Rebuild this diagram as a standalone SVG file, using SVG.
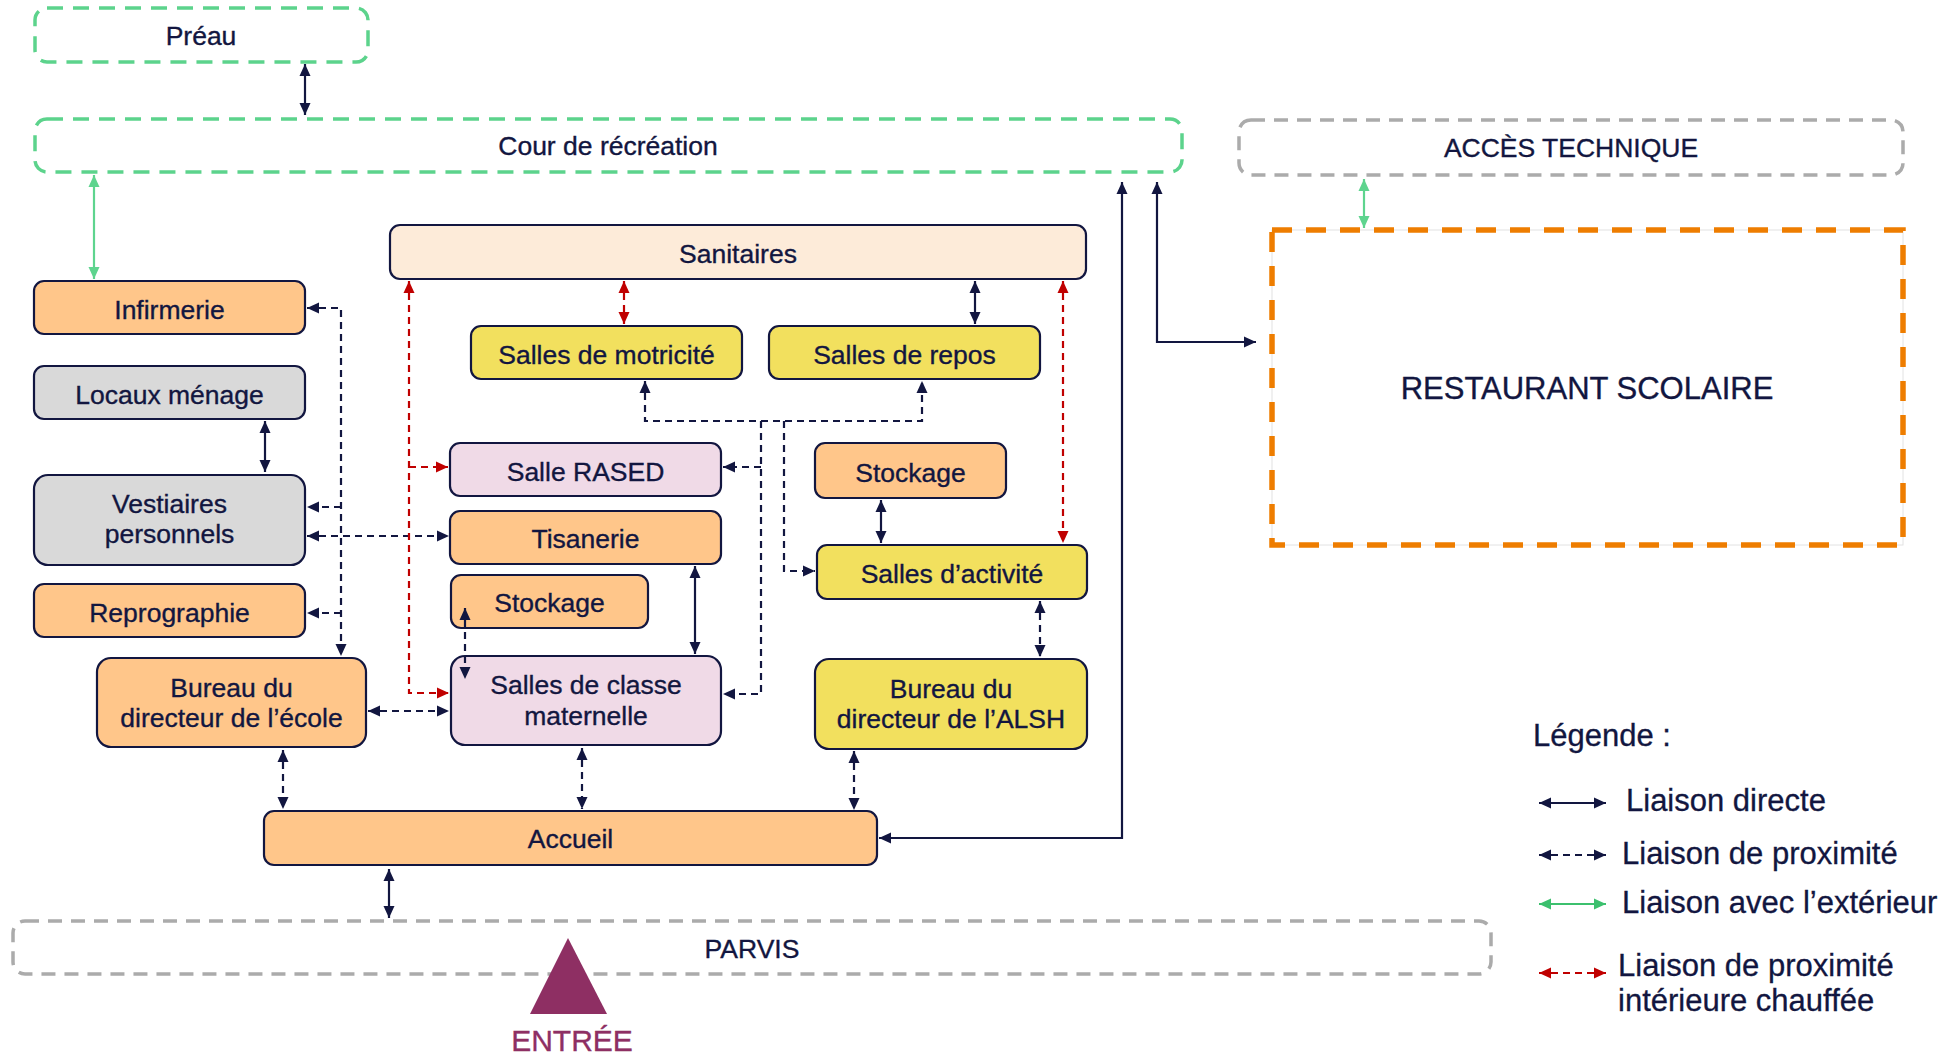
<svg xmlns="http://www.w3.org/2000/svg" width="1954" height="1055" viewBox="0 0 1954 1055">
  <defs>
    <style>
      .t { font-family: "Liberation Sans", Arial, sans-serif; font-size: 26.5px; fill: #121640; stroke: #121640; stroke-width: 0.35; text-anchor: middle; }
      .lg { font-family: "Liberation Sans", Arial, sans-serif; font-size: 31px; fill: #121640; stroke: #121640; stroke-width: 0.3; }
      .box { stroke: #121640; stroke-width: 2.2; }
      .or { fill: #FFC68A; }
      .ye { fill: #F2E05E; }
      .gy { fill: #D9D9D9; }
      .pk { fill: #F0DAE7; }
      .pe { fill: #FDEBD9; }
      .zone-g { fill: none; stroke: #5CD38C; stroke-width: 3.5; stroke-dasharray: 16 10; }
      .zone-y { fill: none; stroke: #ABABAB; stroke-width: 3.5; stroke-dasharray: 14 9; }
      .c { fill: none; stroke: #121640; stroke-width: 2.2; }
      .dash { stroke-dasharray: 7 5; }
      .red { stroke: #C00000; }
      .grn { stroke: #5ED48E; }
      .grn2 { stroke: #3CC06E; }
    </style>
    <marker id="an" viewBox="0 0 12 12" refX="12" refY="6" markerWidth="12" markerHeight="12" markerUnits="userSpaceOnUse" orient="auto-start-reverse">
      <path d="M0,0.5 L12,6 L0,11.5 z" fill="#121640"/>
    </marker>
    <marker id="ar" viewBox="0 0 12 12" refX="12" refY="6" markerWidth="12" markerHeight="12" markerUnits="userSpaceOnUse" orient="auto-start-reverse">
      <path d="M0,0.5 L12,6 L0,11.5 z" fill="#C00000"/>
    </marker>
    <marker id="ag" viewBox="0 0 12 12" refX="12" refY="6" markerWidth="12" markerHeight="12" markerUnits="userSpaceOnUse" orient="auto-start-reverse">
      <path d="M0,0.5 L12,6 L0,11.5 z" fill="#5ED48E"/>
    </marker>
    <marker id="ag2" viewBox="0 0 12 12" refX="12" refY="6" markerWidth="12" markerHeight="12" markerUnits="userSpaceOnUse" orient="auto-start-reverse">
      <path d="M0,0.5 L12,6 L0,11.5 z" fill="#3CC06E"/>
    </marker>
  </defs>

  <rect width="1954" height="1055" fill="#ffffff"/>

  <!-- outdoor zones -->
  <g id="preau">
    <rect class="zone-g" x="35" y="8" width="333" height="54" rx="12"/>
    <text class="t" x="201" y="45">Préau</text>
  </g>
  <g id="cour">
    <rect class="zone-g" x="35" y="119" width="1147" height="53" rx="12"/>
    <text class="t" x="608" y="155">Cour de récréation</text>
  </g>
  <g id="acces-technique">
    <rect class="zone-y" x="1239" y="120" width="664" height="55" rx="12"/>
    <text class="t" x="1571" y="157">ACCÈS TECHNIQUE</text>
  </g>
  <g id="parvis">
    <rect class="zone-y" x="13" y="921" width="1478" height="53" rx="12"/>
    <text class="t" x="752" y="958">PARVIS</text>
  </g>
  <g id="restaurant">
    <rect x="1272" y="230" width="631" height="315" fill="none" stroke="#E2E2E2" stroke-width="1"/>
    <rect x="1272" y="230" width="631" height="315" fill="none" stroke="#EE7D00" stroke-width="5.5" stroke-dasharray="20 14"/>
    <text class="t" x="1587" y="399" style="font-size:31px">RESTAURANT SCOLAIRE</text>
  </g>

  <!-- rooms -->
  <g id="infirmerie">
    <rect class="box or" x="34" y="281" width="271" height="53" rx="10"/>
    <text class="t" x="169.5" y="319">Infirmerie</text>
  </g>
  <g id="locaux-menage">
    <rect class="box gy" x="34" y="366" width="271" height="53" rx="10"/>
    <text class="t" x="169.5" y="404">Locaux ménage</text>
  </g>
  <g id="vestiaires">
    <rect class="box gy" x="34" y="475" width="271" height="90" rx="14"/>
    <text class="t" x="169.5" y="513">Vestiaires</text>
    <text class="t" x="169.5" y="543">personnels</text>
  </g>
  <g id="reprographie">
    <rect class="box or" x="34" y="584" width="271" height="53" rx="10"/>
    <text class="t" x="169.5" y="622">Reprographie</text>
  </g>
  <g id="bureau-ecole">
    <rect class="box or" x="97" y="658" width="269" height="89" rx="14"/>
    <text class="t" x="231.5" y="697">Bureau du</text>
    <text class="t" x="231.5" y="727">directeur de l’école</text>
  </g>
  <g id="sanitaires">
    <rect class="box pe" x="390" y="225" width="696" height="54" rx="10"/>
    <text class="t" x="738" y="263">Sanitaires</text>
  </g>
  <g id="motricite">
    <rect class="box ye" x="471" y="326" width="271" height="53" rx="10"/>
    <text class="t" x="606.5" y="364">Salles de motricité</text>
  </g>
  <g id="repos">
    <rect class="box ye" x="769" y="326" width="271" height="53" rx="10"/>
    <text class="t" x="904.5" y="364">Salles de repos</text>
  </g>
  <g id="rased">
    <rect class="box pk" x="450" y="443" width="271" height="53" rx="10"/>
    <text class="t" x="585.5" y="481">Salle RASED</text>
  </g>
  <g id="tisanerie">
    <rect class="box or" x="450" y="511" width="271" height="53" rx="10"/>
    <text class="t" x="585.5" y="548">Tisanerie</text>
  </g>
  <g id="stockage-1">
    <rect class="box or" x="451" y="575" width="197" height="53" rx="10"/>
    <text class="t" x="549.5" y="612">Stockage</text>
  </g>
  <g id="classes-maternelle">
    <rect class="box pk" x="451" y="656" width="270" height="89" rx="14"/>
    <text class="t" x="586" y="694">Salles de classe</text>
    <text class="t" x="586" y="725">maternelle</text>
  </g>
  <g id="stockage-2">
    <rect class="box or" x="815" y="443" width="191" height="55" rx="10"/>
    <text class="t" x="910.5" y="482">Stockage</text>
  </g>
  <g id="activite">
    <rect class="box ye" x="817" y="545" width="270" height="54" rx="10"/>
    <text class="t" x="952" y="583">Salles d’activité</text>
  </g>
  <g id="bureau-alsh">
    <rect class="box ye" x="815" y="659" width="272" height="90" rx="14"/>
    <text class="t" x="951" y="698">Bureau du</text>
    <text class="t" x="951" y="728">directeur de l’ALSH</text>
  </g>
  <g id="accueil">
    <rect class="box or" x="264" y="811" width="613" height="54" rx="10"/>
    <text class="t" x="570.5" y="848">Accueil</text>
  </g>
  <g id="entree">
    <polygon points="568,938 530,1014 607,1014" fill="#8E2F63"/>
    <text class="t" x="572" y="1051" style="font-size:30px;fill:#8E2F63;stroke:#8E2F63">ENTRÉE</text>
  </g>

  <!-- links -->
  <g id="connectors">
    <!-- direct links -->
    <path class="c" d="M305,64 V115" marker-start="url(#an)" marker-end="url(#an)"/>
    <path class="c" d="M265,421 V472" marker-start="url(#an)" marker-end="url(#an)"/>
    <path class="c" d="M975,281 V324" marker-start="url(#an)" marker-end="url(#an)"/>
    <path class="c" d="M695,566 V654" marker-start="url(#an)" marker-end="url(#an)"/>
    <path class="c" d="M881,500 V543" marker-start="url(#an)" marker-end="url(#an)"/>
    <path class="c" d="M389,869 V918" marker-start="url(#an)" marker-end="url(#an)"/>
    <path class="c" d="M1122,182 V838 H879" marker-start="url(#an)" marker-end="url(#an)"/>
    <path class="c" d="M1157,182 V342 H1256" marker-start="url(#an)" marker-end="url(#an)"/>

    <!-- proximity links -->
    <path class="c dash" d="M307,308 H341 V656" marker-start="url(#an)" marker-end="url(#an)"/>
    <path class="c dash" d="M341,507 H307" marker-end="url(#an)"/>
    <path class="c dash" d="M341,613 H307" marker-end="url(#an)"/>
    <path class="c dash" d="M307,536 H449" marker-start="url(#an)" marker-end="url(#an)"/>
    <path class="c dash" d="M465,608 V679" marker-start="url(#an)" marker-end="url(#an)"/>
    <path class="c dash" d="M368,711 H449" marker-start="url(#an)" marker-end="url(#an)"/>
    <path class="c dash" d="M283,750 V809" marker-start="url(#an)" marker-end="url(#an)"/>
    <path class="c dash" d="M582,748 V809" marker-start="url(#an)" marker-end="url(#an)"/>
    <path class="c dash" d="M854,751 V810" marker-start="url(#an)" marker-end="url(#an)"/>
    <path class="c dash" d="M1040,601 V657" marker-start="url(#an)" marker-end="url(#an)"/>
    <path class="c dash" d="M645,381 V421 H922 V381" marker-start="url(#an)" marker-end="url(#an)"/>
    <path class="c dash" d="M761,421 V694 H723" marker-end="url(#an)"/>
    <path class="c dash" d="M761,467 H723" marker-end="url(#an)"/>
    <path class="c dash" d="M784,421 V571 H815" marker-end="url(#an)"/>

    <!-- heated indoor proximity links -->
    <path class="c dash red" d="M624,281 V324" marker-start="url(#ar)" marker-end="url(#ar)"/>
    <path class="c dash red" d="M409,281 V693 H449" marker-start="url(#ar)" marker-end="url(#ar)"/>
    <path class="c dash red" d="M409,467 H448" marker-end="url(#ar)"/>
    <path class="c dash red" d="M1063,281 V543" marker-start="url(#ar)" marker-end="url(#ar)"/>

    <!-- outdoor links -->
    <path class="c grn" d="M94,175 V279" marker-start="url(#ag)" marker-end="url(#ag)"/>
    <path class="c grn" d="M1364,179 V228" marker-start="url(#ag)" marker-end="url(#ag)"/>
  </g>

  <!-- key -->
  <g id="legende">
    <text class="lg" x="1533" y="746">Légende :</text>
    <path class="c" d="M1539,803 H1606" marker-start="url(#an)" marker-end="url(#an)"/>
    <text class="lg" x="1626" y="811">Liaison directe</text>
    <path class="c dash" d="M1539,855 H1606" marker-start="url(#an)" marker-end="url(#an)"/>
    <text class="lg" x="1622" y="864">Liaison de proximité</text>
    <path class="c grn2" d="M1539,904 H1606" marker-start="url(#ag2)" marker-end="url(#ag2)"/>
    <text class="lg" x="1622" y="913">Liaison avec l’extérieur</text>
    <path class="c dash red" d="M1539,973 H1606" marker-start="url(#ar)" marker-end="url(#ar)"/>
    <text class="lg" x="1618" y="976">Liaison de proximité</text>
    <text class="lg" x="1618" y="1011">intérieure chauffée</text>
  </g>
</svg>
